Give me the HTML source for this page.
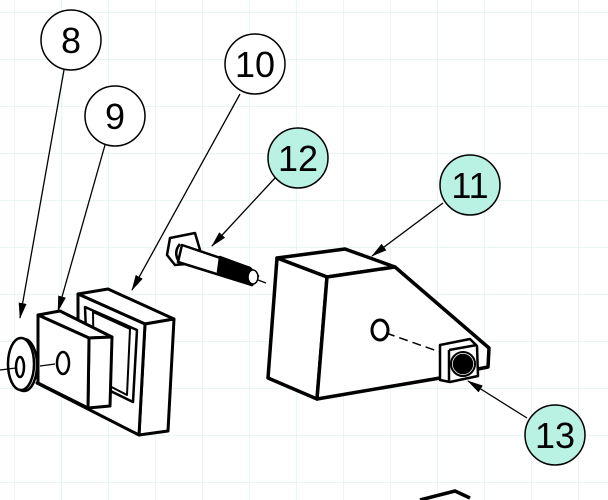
<!DOCTYPE html>
<html><head><meta charset="utf-8"><style>
html,body{margin:0;padding:0;background:#fff}
svg{display:block}
text{font-family:"Liberation Sans",sans-serif;font-size:36px;text-anchor:middle;fill:#000}
</style></head><body>
<svg width="608" height="500" viewBox="0 0 608 500" xmlns="http://www.w3.org/2000/svg">
<defs>
<pattern id="g" x="14" y="12" width="47" height="47" patternUnits="userSpaceOnUse">
<path d="M0 0V47M0 0H47" stroke="#e2f4f4" stroke-width="1.5" fill="none"/>
</pattern>
<marker id="a" markerWidth="10" markerHeight="8" refX="9" refY="4" orient="auto" markerUnits="userSpaceOnUse">
<path d="M0 0L10 4L0 8z" fill="#000"/>
</marker>
<marker id="b" markerWidth="16" markerHeight="8" refX="15" refY="4" orient="auto" markerUnits="userSpaceOnUse">
<path d="M0 0L16 4L0 8z" fill="#000"/>
</marker>
</defs>
<rect width="608" height="500" fill="url(#g)"/>

<g stroke="#000" stroke-width="1.3" fill="none">
<line x1="64" y1="70" x2="20" y2="318" marker-end="url(#b)"/>
<line x1="105" y1="145" x2="58" y2="311" marker-end="url(#b)"/>
<line x1="240" y1="94" x2="132" y2="290" marker-end="url(#b)"/>
<line x1="275" y1="178" x2="212" y2="246" marker-end="url(#b)"/>
<line x1="443" y1="203" x2="372" y2="256" marker-end="url(#b)"/>
<line x1="527" y1="418" x2="468" y2="381" marker-end="url(#b)"/>
</g>

<!-- frame 10 -->
<g stroke="#000" stroke-width="3" stroke-linejoin="round" fill="#fff">
<polygon points="78,294 108,289 174,319 145,324"/>
<polygon points="145,324 174,319 168,431 139,435"/>
<polygon points="78,294 145,324 139,435 37,383 78,370"/>
<polygon points="85,307 137,330 133,402 88,380" stroke-width="2.5"/>
<polygon points="93,312 130,329 127,395 94,378" stroke-width="2"/>
</g>
<!-- block 9 -->
<g stroke="#000" stroke-width="3" stroke-linejoin="round" fill="#fff">
<polygon points="38,315 60,311 112,337 89,338"/>
<polygon points="89,338 112,337 110,406 88,408"/>
<polygon points="38,315 89,338 88,408 38,383"/>
<ellipse cx="63" cy="363" rx="6" ry="11" stroke-width="2.5"/>
</g>
<line x1="40" y1="366" x2="55" y2="364" stroke="#000" stroke-width="1.3"/>
<!-- washer 8 -->
<g stroke="#000" stroke-width="2.5" fill="#fff">
<ellipse cx="24" cy="365" rx="13" ry="26"/>
<ellipse cx="21" cy="364" rx="13" ry="26"/>
<ellipse cx="20" cy="367" rx="4" ry="10"/>
</g>
<line x1="0" y1="370" x2="16" y2="368" stroke="#000" stroke-width="1.3"/>

<!-- bolt 12 -->
<g stroke="#000" stroke-width="2.5" stroke-linejoin="round" fill="#fff">
<polygon points="170,238 195,233 200,250 197,263 175,265 167,255"/>
<polygon points="182,245 250,268 258,276 252,285 178,262"/>
<polygon points="220,257 250,268 257,277 252,285 218,272" fill="#000"/>
<ellipse cx="253" cy="277" rx="5" ry="7" fill="#fff" stroke-width="1.5"/>
<path d="M180 244 Q173 252 179 262" fill="none"/>
</g>
<line x1="258" y1="280" x2="266" y2="283" stroke="#000" stroke-width="1.3"/>

<!-- block 11 -->
<g stroke="#000" stroke-width="3.5" stroke-linejoin="round" fill="#fff">
<polygon points="277,258 345,249 395,267 327,277"/>
<polygon points="277,258 327,277 317,399 268,378"/>
<polygon points="327,277 395,267 489,348 488,367 478,369 440,378 317,399"/>
<ellipse cx="380" cy="330" rx="8" ry="10" stroke-width="3"/>
</g>
<line x1="386" y1="333" x2="440" y2="352" stroke="#000" stroke-width="1.5" stroke-dasharray="9,5"/>
<g stroke="#000" stroke-width="2.5" stroke-linejoin="round" fill="#fff">
<polygon points="440,345 470,339 477,346 478,376 450,382 440,380"/>
<line x1="449" y1="350" x2="477" y2="345"/>
<line x1="449" y1="350" x2="449" y2="382"/>
<circle cx="463" cy="364" r="12" stroke-width="2"/>
<circle cx="463" cy="364" r="9" fill="#000"/>
</g>
<polyline points="420,500 455,491 470,498" stroke="#000" stroke-width="3.5" fill="none"/>

<!-- balloons -->
<g stroke="#000" stroke-width="1.5">
<circle cx="71" cy="40" r="30" fill="#fff"/>
<circle cx="115" cy="116" r="30" fill="#fff"/>
<circle cx="255" cy="64" r="30" fill="#fff"/>
<circle cx="298" cy="158" r="30" fill="#b9f2e2"/>
<circle cx="470" cy="185" r="30" fill="#b9f2e2"/>
<circle cx="555" cy="435" r="30" fill="#b9f2e2"/>
</g>
<text x="71" y="53">8</text>
<text x="115" y="129">9</text>
<text x="255" y="77">10</text>
<text x="298" y="171">12</text>
<text x="470" y="198">11</text>
<text x="555" y="448">13</text>
</svg>
</body></html>
